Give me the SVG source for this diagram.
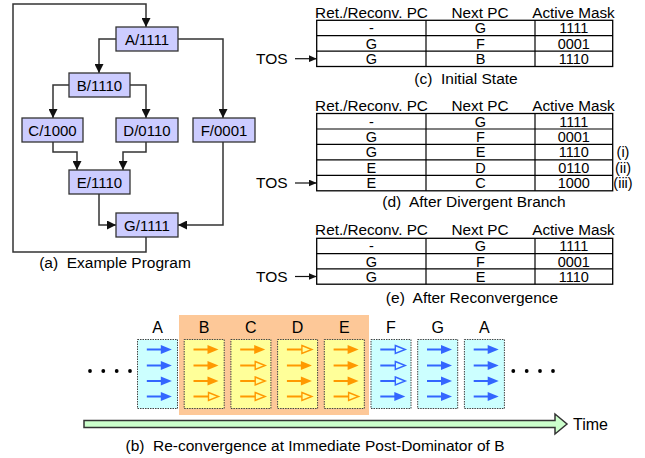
<svg xmlns="http://www.w3.org/2000/svg" xmlns:xlink="http://www.w3.org/1999/xlink" width="645" height="458" viewBox="0 0 645 458">
<style>
text{font-family:"Liberation Sans",Arial,sans-serif;fill:#000}
.nd{fill:#ccccff;stroke:#333;stroke-width:1.3}
.nt{font-size:15px;text-anchor:middle}
.cn{fill:none;stroke:#333;stroke-width:1.5}
.tb{fill:#fff;stroke:#000;stroke-width:1.3}
.tl{stroke:#000;stroke-width:1.2}
.th{font-size:15.3px;text-anchor:middle}
.tc{font-size:14.5px;text-anchor:middle}
.cap{font-size:15.5px;text-anchor:middle;white-space:pre}
.cy{fill:#ccffff;stroke:#444;stroke-width:1;stroke-dasharray:1.5 1}
.yl{fill:#ffff99;stroke:#444;stroke-width:1;stroke-dasharray:1.5 1}
.lb{font-size:16px;text-anchor:middle}
</style>
<defs>
<marker id="ah" markerUnits="userSpaceOnUse" markerWidth="10" markerHeight="9" refX="9" refY="4.5" orient="auto">
<path d="M0,0 L9,4.5 L0,9 z" fill="#111"/>
</marker>
<marker id="ts" markerUnits="userSpaceOnUse" markerWidth="9" markerHeight="7" refX="8" refY="3.5" orient="auto">
<path d="M0,0 L8,3.5 L0,7 z" fill="#111"/>
</marker>
<g id="bf"><line x1="0" y1="0" x2="15" y2="0" stroke="#3366ff" stroke-width="2"/><polygon points="14,-4.5 25,0 14,4.5" fill="#3366ff"/></g>
<g id="bh"><line x1="0" y1="0" x2="15" y2="0" stroke="#3366ff" stroke-width="2"/><polygon points="15,-4 25,0 15,4" fill="none" stroke="#3366ff" stroke-width="1.4"/></g>
<g id="of"><line x1="0" y1="0" x2="15" y2="0" stroke="#ff9900" stroke-width="2"/><polygon points="14,-4.5 25,0 14,4.5" fill="#ff9900"/></g>
<g id="oh"><line x1="0" y1="0" x2="15" y2="0" stroke="#ff9900" stroke-width="2"/><polygon points="15,-4 25,0 15,4" fill="none" stroke="#ff9900" stroke-width="1.4"/></g>
</defs>

<!-- (a) example program -->
<g id="connectors">
<path class="cn" d="M146,237 V252 H13 V4 H146 V27" marker-end="url(#ah)"/>
<path class="cn" d="M116,39 H99 V73" marker-end="url(#ah)"/>
<path class="cn" d="M178,39 H223 V118" marker-end="url(#ah)"/>
<path class="cn" d="M69,85 H53 V118" marker-end="url(#ah)"/>
<path class="cn" d="M130,85 H146 V118" marker-end="url(#ah)"/>
<path class="cn" d="M53,142 V152 H77 V170" marker-end="url(#ah)"/>
<path class="cn" d="M146,142 V152 H123 V170" marker-end="url(#ah)"/>
<path class="cn" d="M99,194 V225 H116" marker-end="url(#ah)"/>
<path class="cn" d="M223,142 V225 H178" marker-end="url(#ah)"/>
<line x1="295" y1="58.7" x2="316.7" y2="58.7" stroke="#111" stroke-width="1.2" marker-end="url(#ts)"/>
<line x1="295" y1="183" x2="316.7" y2="183" stroke="#111" stroke-width="1.2" marker-end="url(#ts)"/>
<line x1="295" y1="276.5" x2="316.7" y2="276.5" stroke="#111" stroke-width="1.2" marker-end="url(#ts)"/>
</g>
<g id="nA"><rect class="nd" x="116" y="27" width="62" height="24"/><text class="nt" x="147" y="44.5">A/1111</text></g>
<g id="nB"><rect class="nd" x="69" y="73" width="61" height="24"/><text class="nt" x="99.5" y="90.5">B/1110</text></g>
<g id="nC"><rect class="nd" x="22" y="118" width="61" height="24"/><text class="nt" x="52.5" y="135.5">C/1000</text></g>
<g id="nD"><rect class="nd" x="116" y="118" width="62" height="24"/><text class="nt" x="147" y="135.5">D/0110</text></g>
<g id="nF"><rect class="nd" x="193" y="118" width="62" height="24"/><text class="nt" x="224" y="135.5">F/0001</text></g>
<g id="nE"><rect class="nd" x="69" y="170" width="61" height="24"/><text class="nt" x="99.5" y="187.5">E/1110</text></g>
<g id="nG"><rect class="nd" x="116" y="213" width="62" height="24"/><text class="nt" x="147" y="230.5">G/1111</text></g>
<text class="cap" x="115" y="268" xml:space="preserve">(a)  Example Program</text>

<!-- (c) -->
<g id="tableC">
<text class="th" x="371.5" y="17.5">Ret./Reconv. PC</text>
<text class="th" x="480" y="17.5">Next PC</text>
<text class="th" x="573.5" y="17.5">Active Mask</text>
<rect class="tb" x="316.7" y="20.3" width="296" height="46.2"/>
<line class="tl" x1="316.7" y1="35.7" x2="612.7" y2="35.7"/>
<line class="tl" x1="316.7" y1="51.1" x2="612.7" y2="51.1"/>
<line class="tl" x1="426" y1="20.3" x2="426" y2="66.5"/>
<line class="tl" x1="535" y1="20.3" x2="535" y2="66.5"/>
<text class="tc" x="371.3" y="33.3">-</text><text class="tc" x="480.5" y="33.3">G</text><text class="tc" x="573.8" y="33.3">1111</text>
<text class="tc" x="371.3" y="48.7">G</text><text class="tc" x="480.5" y="48.7">F</text><text class="tc" x="573.8" y="48.7">0001</text>
<text class="tc" x="371.3" y="64.1">G</text><text class="tc" x="480.5" y="64.1">B</text><text class="tc" x="573.8" y="64.1">1110</text>
<text x="256" y="64" style="font-size:15.5px">TOS</text>
<text class="cap" x="466" y="84" xml:space="preserve">(c)  Initial State</text>
</g>

<!-- (d) -->
<g id="tableD">
<text class="th" x="371.5" y="110.7">Ret./Reconv. PC</text>
<text class="th" x="480" y="110.7">Next PC</text>
<text class="th" x="573.5" y="110.7">Active Mask</text>
<rect class="tb" x="316.7" y="113.5" width="296" height="77.3"/>
<line class="tl" x1="316.7" y1="129" x2="612.7" y2="129"/>
<line class="tl" x1="316.7" y1="144.4" x2="612.7" y2="144.4"/>
<line class="tl" x1="316.7" y1="159.9" x2="612.7" y2="159.9"/>
<line class="tl" x1="316.7" y1="175.3" x2="612.7" y2="175.3"/>
<line class="tl" x1="426" y1="113.5" x2="426" y2="190.8"/>
<line class="tl" x1="535" y1="113.5" x2="535" y2="190.8"/>
<text class="tc" x="371.3" y="126.5">-</text><text class="tc" x="480.5" y="126.5">G</text><text class="tc" x="573.8" y="126.5">1111</text>
<text class="tc" x="371.3" y="142">G</text><text class="tc" x="480.5" y="142">F</text><text class="tc" x="573.8" y="142">0001</text>
<text class="tc" x="371.3" y="157.4">G</text><text class="tc" x="480.5" y="157.4">E</text><text class="tc" x="573.8" y="157.4">1110</text>
<text class="tc" x="371.3" y="172.9">E</text><text class="tc" x="480.5" y="172.9">D</text><text class="tc" x="573.8" y="172.9">0110</text>
<text class="tc" x="371.3" y="188.3">E</text><text class="tc" x="480.5" y="188.3">C</text><text class="tc" x="573.8" y="188.3">1000</text>
<text class="tc" x="623" y="157.4">(i)</text>
<text class="tc" x="623" y="172.9">(ii)</text>
<text class="tc" x="623" y="188.3">(iii)</text>
<text x="256" y="188.3" style="font-size:15.5px">TOS</text>
<text class="cap" x="474" y="207" xml:space="preserve">(d)  After Divergent Branch</text>
</g>

<!-- (e) -->
<g id="tableE">
<text class="th" x="371.5" y="235">Ret./Reconv. PC</text>
<text class="th" x="480" y="235">Next PC</text>
<text class="th" x="573.5" y="235">Active Mask</text>
<rect class="tb" x="316.7" y="238.3" width="296" height="45.9"/>
<line class="tl" x1="316.7" y1="253.6" x2="612.7" y2="253.6"/>
<line class="tl" x1="316.7" y1="268.9" x2="612.7" y2="268.9"/>
<line class="tl" x1="426" y1="238.3" x2="426" y2="284.2"/>
<line class="tl" x1="535" y1="238.3" x2="535" y2="284.2"/>
<text class="tc" x="371.3" y="251.3">-</text><text class="tc" x="480.5" y="251.3">G</text><text class="tc" x="573.8" y="251.3">1111</text>
<text class="tc" x="371.3" y="266.6">G</text><text class="tc" x="480.5" y="266.6">F</text><text class="tc" x="573.8" y="266.6">0001</text>
<text class="tc" x="371.3" y="281.9">G</text><text class="tc" x="480.5" y="281.9">E</text><text class="tc" x="573.8" y="281.9">1110</text>
<text x="256" y="282" style="font-size:15.5px">TOS</text>
<text class="cap" x="472" y="303" xml:space="preserve">(e)  After Reconvergence</text>
</g>

<!-- (b) timeline -->
<g id="timeline">
<rect x="179" y="315" width="190" height="100" fill="#fdc898"/>
<g fill="#000">
<circle cx="90" cy="371" r="1.9"/><circle cx="103.3" cy="371" r="1.9"/><circle cx="116.7" cy="371" r="1.9"/><circle cx="130" cy="371" r="1.9"/>
<circle cx="513.3" cy="371" r="1.9"/><circle cx="526.7" cy="371" r="1.9"/><circle cx="540" cy="371" r="1.9"/><circle cx="553" cy="371" r="1.9"/>
</g>
<g id="wA1"><rect class="cy" x="137.5" y="339.5" width="40" height="69"/><text class="lb" x="157.5" y="333">A</text>
<use xlink:href="#bf" x="146.8" y="349.5"/><use xlink:href="#bf" x="146.8" y="365.5"/><use xlink:href="#bf" x="146.8" y="381"/><use xlink:href="#bf" x="146.8" y="396.5"/></g>
<g id="wB"><rect class="yl" x="184.2" y="339.5" width="40" height="69"/><text class="lb" x="204.2" y="333">B</text>
<use xlink:href="#of" x="193.5" y="349.5"/><use xlink:href="#of" x="193.5" y="365.5"/><use xlink:href="#of" x="193.5" y="381"/><use xlink:href="#oh" x="193.5" y="396.5"/></g>
<g id="wC"><rect class="yl" x="230.9" y="339.5" width="40" height="69"/><text class="lb" x="250.9" y="333">C</text>
<use xlink:href="#of" x="240.2" y="349.5"/><use xlink:href="#oh" x="240.2" y="365.5"/><use xlink:href="#oh" x="240.2" y="381"/><use xlink:href="#oh" x="240.2" y="396.5"/></g>
<g id="wD"><rect class="yl" x="277.6" y="339.5" width="40" height="69"/><text class="lb" x="297.6" y="333">D</text>
<use xlink:href="#oh" x="286.9" y="349.5"/><use xlink:href="#of" x="286.9" y="365.5"/><use xlink:href="#of" x="286.9" y="381"/><use xlink:href="#oh" x="286.9" y="396.5"/></g>
<g id="wE"><rect class="yl" x="324.3" y="339.5" width="40" height="69"/><text class="lb" x="344.3" y="333">E</text>
<use xlink:href="#of" x="333.6" y="349.5"/><use xlink:href="#of" x="333.6" y="365.5"/><use xlink:href="#of" x="333.6" y="381"/><use xlink:href="#oh" x="333.6" y="396.5"/></g>
<g id="wF"><rect class="cy" x="371" y="339.5" width="40" height="69"/><text class="lb" x="391" y="333">F</text>
<use xlink:href="#bh" x="380.3" y="349.5"/><use xlink:href="#bh" x="380.3" y="365.5"/><use xlink:href="#bh" x="380.3" y="381"/><use xlink:href="#bf" x="380.3" y="396.5"/></g>
<g id="wG"><rect class="cy" x="417.7" y="339.5" width="40" height="69"/><text class="lb" x="437.7" y="333">G</text>
<use xlink:href="#bf" x="427" y="349.5"/><use xlink:href="#bf" x="427" y="365.5"/><use xlink:href="#bf" x="427" y="381"/><use xlink:href="#bf" x="427" y="396.5"/></g>
<g id="wA2"><rect class="cy" x="464.4" y="339.5" width="40" height="69"/><text class="lb" x="484.4" y="333">A</text>
<use xlink:href="#bf" x="473.7" y="349.5"/><use xlink:href="#bf" x="473.7" y="365.5"/><use xlink:href="#bf" x="473.7" y="381"/><use xlink:href="#bf" x="473.7" y="396.5"/></g>
<polygon points="84,420.5 555,420.5 555,414 567,424 555,434 555,427.5 84,427.5" fill="#ccffcc" stroke="#333" stroke-width="1.5"/>
<text x="573" y="429.5" style="font-size:16px">Time</text>
<text class="cap" x="315" y="451" xml:space="preserve">(b)  Re-convergence at Immediate Post-Dominator of B</text>
</g>
</svg>
